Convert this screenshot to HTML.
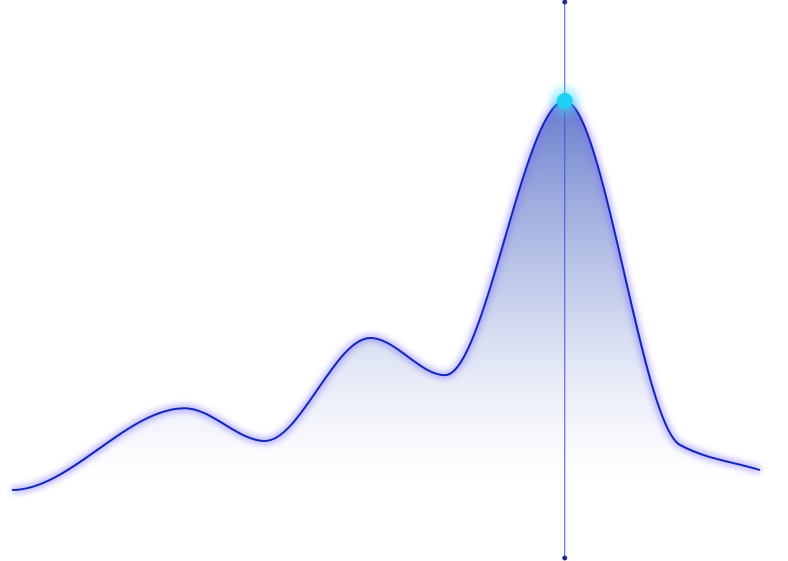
<!DOCTYPE html>
<html>
<head>
<meta charset="utf-8">
<style>
  html,body{margin:0;padding:0;background:#ffffff;}
  body{width:788px;height:561px;overflow:hidden;font-family:"Liberation Sans",sans-serif;}
  svg{display:block;}
</style>
</head>
<body>
<svg id="chart" width="788" height="561" viewBox="0 0 788 561" xmlns="http://www.w3.org/2000/svg">
  <defs>
    <linearGradient id="fillGrad" x1="0" y1="0" x2="0" y2="1"></linearGradient>
    <filter id="glow" x="-10%" y="-20%" width="120%" height="140%">
      <feGaussianBlur stdDeviation="3.5"/>
    </filter>
    <filter id="dotGlow" x="-100%" y="-100%" width="300%" height="300%">
      <feGaussianBlur stdDeviation="4"/>
    </filter>
  </defs>
  <g id="plot"></g>
</svg>
<script>
const xValues = [0, 23.1, 33.8, 47.9, 57.9, 73.9, 89.3, 100];
const yValues = [2.5, 23, 14.8, 40.6, 31.3, 100, 13.8, 7.5];
const markerX = [73.9];

const NS = "http://www.w3.org/2000/svg";
const xScale = v => 12 + v / 100 * 748;
const yScale = v => 500 - v / 100 * 399;

const grad = document.getElementById('fillGrad');
grad.setAttribute('gradientUnits','userSpaceOnUse');
grad.setAttribute('x1','0');grad.setAttribute('x2','0');
grad.setAttribute('y1', yScale(100));grad.setAttribute('y2', 492);
[[0,'#4c64c4',0.85],[0.5,'#8c9ed8',0.5],[0.85,'#d8def2',0.25],[1,'#ffffff',0]].forEach(s=>{
  const st=document.createElementNS(NS,'stop');
  st.setAttribute('offset',s[0]);st.setAttribute('stop-color',s[1]);st.setAttribute('stop-opacity',s[2]);
  grad.appendChild(st);
});

function monotonePath(px, py){
  const n=px.length, d=[], m=[];
  for(let i=0;i<n-1;i++) d.push((py[i+1]-py[i])/(px[i+1]-px[i]));
  m[0]=0; m[n-1]=d[n-2];
  for(let i=1;i<n-1;i++){
    if(d[i-1]*d[i]<=0) m[i]=0;
    else { const h0=px[i]-px[i-1], h1=px[i+1]-px[i];
      m[i]=3*(h0+h1)/((2*h1+h0)/d[i-1]+(h1+2*h0)/d[i]); }
  }
  let s='M'+px[0]+','+py[0];
  for(let i=0;i<n-1;i++){
    const h=(px[i+1]-px[i])/3;
    s+=' C'+(px[i]+h)+','+(py[i]+m[i]*h)+' '+(px[i+1]-h)+','+(py[i+1]-m[i+1]*h)+' '+px[i+1]+','+py[i+1];
  }
  return s;
}
const px = xValues.map(xScale), py = yValues.map(yScale);
const linePath = monotonePath(px, py);
const plot = document.getElementById('plot');

const area=document.createElementNS(NS,'path');
area.setAttribute('d', linePath+' L'+px[px.length-1]+','+yScale(0)+' L'+px[0]+','+yScale(0)+' Z');
area.setAttribute('fill','url(#fillGrad)');


plot.appendChild(area);

const glow=document.createElementNS(NS,'path');
glow.setAttribute('d', linePath);glow.setAttribute('fill','none');
glow.setAttribute('stroke','#7a6cff');glow.setAttribute('stroke-width','6');glow.setAttribute('opacity','0.6');
glow.setAttribute('filter','url(#glow)');


plot.appendChild(glow);

const line=document.createElementNS(NS,'path');
line.setAttribute('d', linePath);line.setAttribute('fill','none');
line.setAttribute('stroke','#1428b8');line.setAttribute('stroke-width','2');


plot.appendChild(line);

markerX.forEach(v=>{
  const x=xScale(v);
  const idx=xValues.indexOf(v);
  const y=yScale(yValues[idx]);
  const vl=document.createElementNS(NS,'line');
  vl.setAttribute('x1',x);vl.setAttribute('x2',x);vl.setAttribute('y1',2);vl.setAttribute('y2',558);
  vl.setAttribute('stroke','#3b55e0');vl.setAttribute('stroke-width','1');
  
  
  plot.appendChild(vl);
  [2,558].forEach(yy=>{
    const c=document.createElementNS(NS,'circle');
    c.setAttribute('cx',x);c.setAttribute('cy',yy);c.setAttribute('r',2.5);c.setAttribute('fill','#1a2a9a');
    
    
    plot.appendChild(c);
  });
  const halo=document.createElementNS(NS,'circle');
  halo.setAttribute('cx',x);halo.setAttribute('cy',y);halo.setAttribute('r',14);
  halo.setAttribute('fill','#3ee0ff');halo.setAttribute('opacity','0.45');halo.setAttribute('filter','url(#dotGlow)');
  
  
  plot.appendChild(halo);
  const dot=document.createElementNS(NS,'circle');
  dot.setAttribute('cx',x);dot.setAttribute('cy',y);dot.setAttribute('r',8);dot.setAttribute('fill','#1fd0f5');
  
  
  plot.appendChild(dot);
});
</script>
</body>
</html>
